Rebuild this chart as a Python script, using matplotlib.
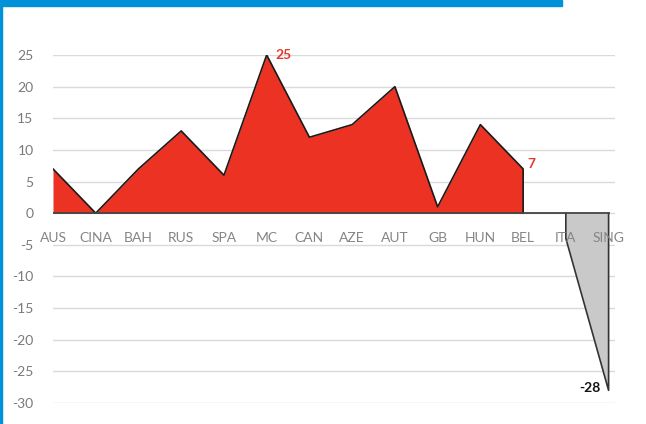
import matplotlib
matplotlib.use("Agg")
import matplotlib.pyplot as plt
from matplotlib.patches import Rectangle
import numpy as np

categories = ["AUS", "CINA", "BAH", "RUS", "SPA", "MC", "CAN", "AZE", "AUT", "GB", "HUN", "BEL", "ITA", "SING"]
pos_values = [7, 0, 7, 13, 6, 25, 12, 14, 20, 1, 14, 7]
neg_values = [-4, -28]
yticks = [25, 20, 15, 10, 5, 0, -5, -10, -15, -20, -25, -30]

plt.rcParams['font.family'] = ['Lato', 'DejaVu Sans']

fig = plt.figure(figsize=(6.46, 4.24), dpi=100)
ax = fig.add_axes([53/646, 21/424, (615-53)/646, (403-55)/424])

x = np.arange(len(categories))
xp = x[:len(pos_values)]
xn = x[len(pos_values):]

red = '#EC3323'
grey = '#C9C9C9'

ax.fill_between(xp, pos_values, 0, color=red, linewidth=0, zorder=2)
ax.plot(list(xp) + [xp[-1]], pos_values + [0], color='#1a1a1a', lw=1.2, zorder=3)

ax.fill_between(xn, neg_values, 0, color=grey, linewidth=0, zorder=2)
ax.plot([xn[0]] + list(xn) + [xn[-1]], [0] + neg_values + [0], color='#333333', lw=1.2, zorder=3)

ax.axhline(0, color='#444444', lw=1.3, zorder=4, xmin=0, xmax=13/13.15)

ax.set_xlim(0, 13.15)
ax.set_ylim(-30, 25)
ax.set_yticks(yticks)
ax.set_yticklabels([str(v) for v in yticks])
ax.grid(axis='y', color='#DADADA', lw=1, zorder=0)
ax.set_axisbelow(True)
for s in ax.spines.values():
    s.set_visible(False)
ax.tick_params(axis='y', length=0, pad=14, labelsize=10, labelcolor='#7a7a7a')
ax.set_xticks([])

for xi, c in zip(x, categories):
    ax.text(xi, -3.9, c, ha='center', va='center', fontsize=10, color='#858585', zorder=5)

ax.text(xp[5] + 0.2, pos_values[5], str(pos_values[5]), color='#E03A2C', fontsize=10,
        fontweight='bold', ha='left', va='center')
ax.text(xp[-1] + 0.1, pos_values[-1] + 0.7, str(pos_values[-1]), color='#E03A2C', fontsize=10,
        fontweight='bold', ha='left', va='center')
ax.text(xn[-1] - 0.18, neg_values[-1] + 0.3, str(neg_values[-1]), color='#111111', fontsize=10,
        fontweight='bold', ha='right', va='center')

# frame decorations
fig.patches.append(Rectangle((0, 1 - 6/424), 562/646, 6/424, transform=fig.transFigure,
                             color='#0091D9', zorder=10))
fig.patches.append(Rectangle((0, 0), 2/646, 1, transform=fig.transFigure,
                             color='#0091D9', zorder=10))

fig.savefig('out.png', dpi=100)
